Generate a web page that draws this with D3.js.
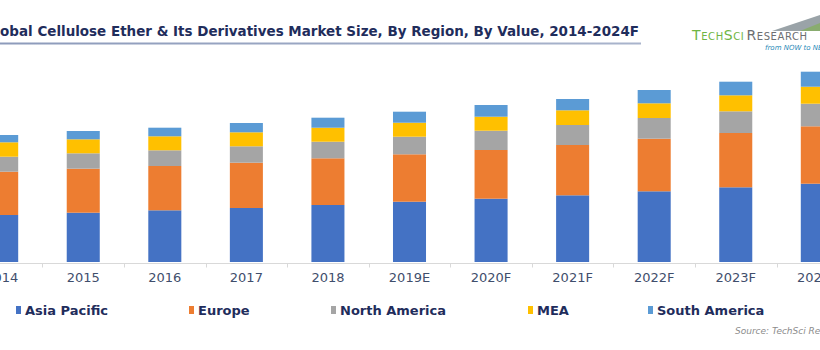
<!DOCTYPE html>
<html>
<head>
<meta charset="utf-8">
<script src="https://cdn.jsdelivr.net/npm/d3@7"></script>
<style>
  html, body { margin: 0; padding: 0; background: #ffffff; }
  svg { display: block; }
</style>
</head>
<body>
<div id="chart"></div>
<script>
// ---- data ----
const categories = ["2014", "2015", "2016", "2017", "2018", "2019E", "2020F", "2021F", "2022F", "2023F", "2024F"];
const seriesNames = ["Asia Pacific", "Europe", "North America", "MEA", "South America"];
const asiaPacific  = [4.70, 4.93, 5.17, 5.40, 5.70, 6.03, 6.33, 6.67, 7.07, 7.47, 7.83];
const europe       = [4.33, 4.40, 4.43, 4.53, 4.67, 4.74, 4.87, 5.03, 5.26, 5.43, 5.74];
const northAmerica = [1.50, 1.54, 1.57, 1.64, 1.66, 1.76, 1.93, 2.00, 2.07, 2.17, 2.26];
const mea          = [1.44, 1.40, 1.40, 1.40, 1.40, 1.40, 1.40, 1.47, 1.47, 1.60, 1.70];
const southAmerica = [0.73, 0.83, 0.86, 0.93, 1.00, 1.10, 1.17, 1.13, 1.33, 1.36, 1.50];
const colors = ["#4472c4", "#ed7d31", "#a5a5a5", "#ffc000", "#5b9bd5"];
const titleText = "Global Cellulose Ether & Its Derivatives Market Size, By Region, By Value, 2014-2024F";
const sourceText = "Source: TechSci Research";

// ---- build table ----
const seriesValues = [asiaPacific, europe, northAmerica, mea, southAmerica];
const rows = categories.map((c, i) => {
  const r = { cat: c };
  seriesNames.forEach((s, j) => r[s] = seriesValues[j][i]);
  return r;
});
const stacked = d3.stack().keys(seriesNames)(rows);

const W = 820, H = 350;
const svg = d3.select("#chart").append("svg").attr("width", W).attr("height", H);

const x = d3.scaleBand().domain(categories).range([-39.1, 858.1])
  .paddingInner(0.595).paddingOuter(0.2975);
const y = d3.scaleLinear().domain([0, 20]).range([262, 62]);

// bars
const g = svg.append("g");
g.selectAll("g.series").data(stacked).join("g")
  .attr("class", "series")
  .attr("fill", (d, i) => colors[i])
  .selectAll("rect").data(d => d).join("rect")
  .attr("x", d => x(d.data.cat))
  .attr("width", x.bandwidth())
  .attr("y", d => y(d[1]))
  .attr("height", d => y(d[0]) - y(d[1]));

// x axis
const axisY = 263.5;
svg.append("line").attr("x1", 0).attr("x2", W).attr("y1", axisY).attr("y2", axisY)
  .attr("stroke", "#d9d9d9").attr("stroke-width", 1);
const step = x.step();
const boundaries = categories.map(c => x(c) + x.bandwidth() / 2 + step / 2);
svg.selectAll("line.tick").data(boundaries).join("line")
  .attr("class", "tick")
  .attr("x1", d => Math.round(d) + 0.5).attr("x2", d => Math.round(d) + 0.5)
  .attr("y1", axisY).attr("y2", axisY + 4)
  .attr("stroke", "#d9d9d9");
const xAxis = svg.append("g").attr("transform", `translate(0,${axisY})`)
  .call(d3.axisBottom(x).tickSize(0).tickPadding(9));
xAxis.select(".domain").remove();
xAxis.selectAll("text")
  .attr("font-family", "DejaVu Sans, Verdana, sans-serif")
  .attr("font-size", 13)
  .attr("fill", "#3f4e6c");

// title
const title = svg.append("text")
  .attr("x", 639).attr("y", 36)
  .attr("text-anchor", "end")
  .attr("font-family", "DejaVu Sans, Verdana, sans-serif")
  .attr("font-weight", "bold")
  .attr("font-size", 12)
  .attr("fill", "#1f2d5c")
  .text(titleText);
// fit so the visible part ("obal ...") spans 0..639
const tmp = svg.append("text").attr("font-family", "DejaVu Sans, Verdana, sans-serif")
  .attr("font-weight", "bold").attr("font-size", 12).text(titleText.slice(2));
const wSub = tmp.node().getComputedTextLength();
tmp.remove();
title.attr("font-size", 12 * 639 / wSub);

// underline
const ug = svg.append("defs").append("linearGradient").attr("id", "ul")
  .attr("x1", "0%").attr("x2", "100%");
ug.append("stop").attr("offset", "0%").attr("stop-color", "#8d9bbb");
ug.append("stop").attr("offset", "100%").attr("stop-color", "#a9b4cc");
svg.append("rect").attr("x", 0).attr("y", 42.5).attr("width", 641).attr("height", 2)
  .attr("fill", "url(#ul)");

// logo
svg.append("polygon")
  .attr("points", "772,31 820,15 820,31")
  .attr("fill", "#9aa3a8");
svg.append("polygon")
  .attr("points", "800,31 820,23 820,31")
  .attr("fill", "#7fb24a").attr("opacity", 0.6);
const logo = svg.append("text").attr("x", 692).attr("y", 40)
  .attr("font-family", "DejaVu Sans, Verdana, sans-serif")
  .attr("font-size", 14)
  .attr("letter-spacing", 0.6)
  .style("font-variant", "small-caps");
logo.append("tspan").attr("fill", "#6fb543").text("TechSci");
logo.append("tspan").attr("fill", "#6d6e71").attr("dx", 2).text("Research");
svg.append("text").attr("x", 765).attr("y", 50)
  .attr("font-family", "DejaVu Sans, Verdana, sans-serif")
  .attr("font-style", "italic").attr("font-size", 7)
  .attr("fill", "#2a8ab8").text("from NOW to NEXT");

// legend
const legendX = [16, 189, 331, 528, 648];
const lg = svg.append("g");
seriesNames.forEach((s, i) => {
  lg.append("rect").attr("x", legendX[i]).attr("y", 306).attr("width", 5).attr("height", 8)
    .attr("fill", colors[i]);
  lg.append("text").attr("x", legendX[i] + 9).attr("y", 315)
    .attr("font-family", "DejaVu Sans, Verdana, sans-serif")
    .attr("font-weight", "bold").attr("font-size", 13)
    .attr("fill", "#1f2d5c").text(s);
});

// source
svg.append("text").attr("x", 735).attr("y", 334)
  .attr("font-family", "DejaVu Sans, Verdana, sans-serif")
  .attr("font-style", "italic").attr("font-size", 9)
  .attr("fill", "#8c8c8c").text(sourceText);
</script>
</body>
</html>
